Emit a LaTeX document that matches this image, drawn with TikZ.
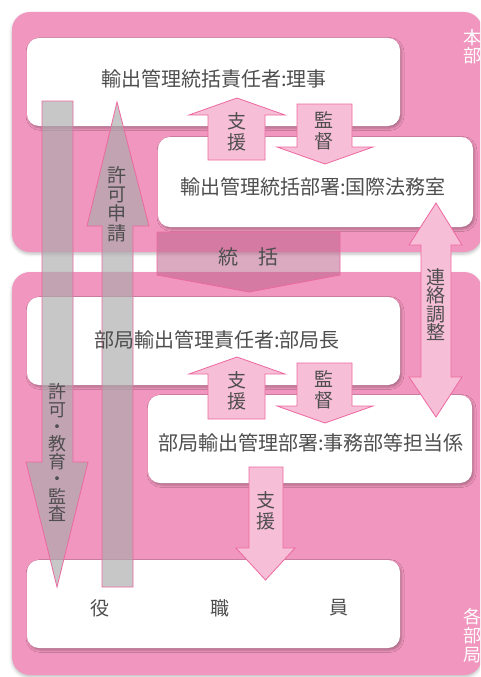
\documentclass[tikz,border=0pt]{standalone}
\usepackage{fontspec}
\newfontfamily\cjk{Noto Sans CJK JP}
\usetikzlibrary{shadows.blur}
\definecolor{panelpink}{RGB}{241,150,190}
\definecolor{txtgray}{RGB}{78,78,78}
\definecolor{edgepink}{RGB}{236,105,160}
\definecolor{lightpink}{RGB}{247,190,215}
\definecolor{darkpink}{RGB}{190,100,140}
\definecolor{arrgray}{RGB}{171,171,173}
\tikzset{
  panel/.style={fill=panelpink, draw=none, rounded corners=18pt, inner sep=0pt,
    blur shadow={shadow xshift=0pt, shadow yshift=-2pt, shadow blur radius=3pt, shadow opacity=25}},
  whitebox/.style={fill=white, draw=none, rounded corners=12pt, inner sep=0pt,
    blur shadow={shadow xshift=1.5pt, shadow yshift=-2pt, shadow blur radius=2.5pt, shadow opacity=30}},
  grayarrow/.style={fill=arrgray, fill opacity=0.66, draw=edgepink, line width=0.8pt, line join=miter},
  pinkarrow/.style={fill=lightpink, draw=edgepink, line width=0.8pt},
  toparrow/.style={fill=darkpink, fill opacity=0.55, draw=edgepink, line width=0.8pt},
  maintext/.style={font=\cjk\fontsize{20}{22}\selectfont, text=txtgray, inner sep=0pt},
  vtext/.style={font=\cjk\fontsize{19}{21}\selectfont, text=txtgray, align=center, inner sep=0pt},
  sidetext/.style={font=\cjk\fontsize{18}{18}\selectfont, text=white, align=center, inner sep=0pt}
}
\begin{document}
\begin{tikzpicture}[x=1pt,y=-1pt]
\useasboundingbox (0,0) rectangle (480,677);
\clip (0,0) rectangle (480,677);
% panels
\node[panel, minimum width=470pt, minimum height=240pt] (p1) at (247,132) {};
\node[panel, minimum width=470pt, minimum height=403pt] (p2) at (247,473.5) {};
% boxes
\node[whitebox, minimum width=373pt, minimum height=88pt] (b1) at (213.5,82) {};
\node[whitebox, minimum width=315pt, minimum height=90pt] (b2) at (315.5,182) {};
\node[whitebox, minimum width=373pt, minimum height=88pt] (b3) at (213.5,341) {};
\node[whitebox, minimum width=324pt, minimum height=88pt] (b4) at (310,439) {};
\node[whitebox, minimum width=373pt, minimum height=88pt] (b5) at (213.5,604) {};
% 統括 arrow
\draw[toparrow] (157,232) -- (340,232) -- (340,275) -- (249,292) -- (157,275) -- cycle;
% gray arrows
\draw[grayarrow] (42,101) -- (73,101) -- (73,462) -- (88,462) -- (57,587) -- (26,462) -- (42,462) -- cycle;
\draw[grayarrow] (117,102) -- (149,226) -- (133,226) -- (133,587) -- (102,587) -- (102,226) -- (87,226) -- cycle;
% pink arrows top pair
\draw[pinkarrow] (237,98) -- (285,115) -- (265,115) -- (265,160) -- (208,160) -- (208,115) -- (189,115) -- cycle;
\draw[pinkarrow] (297,104) -- (352,104) -- (352,147) -- (373,147) -- (325,164) -- (277,147) -- (297,147) -- cycle;
% pink arrows bottom pair
\draw[pinkarrow] (237,357) -- (285,374) -- (265,374) -- (265,419) -- (208,419) -- (208,374) -- (189,374) -- cycle;
\draw[pinkarrow] (297,363) -- (352,363) -- (352,406) -- (373,406) -- (325,423) -- (277,406) -- (297,406) -- cycle;
% 支援 down
\draw[pinkarrow] (249,467) -- (283,467) -- (283,548) -- (295,548) -- (265.5,580) -- (236,548) -- (249,548) -- cycle;
% 連絡調整 double arrow
\draw[pinkarrow] (436,203) -- (462,245) -- (451,245) -- (451,377) -- (462,377) -- (436,417) -- (409,377) -- (421,377) -- (421,245) -- (409,245) -- cycle;
% texts
\node[maintext] (t1) at (214,79) {輸出管理統括責任者:理事};
\node[maintext] (t2) at (313,187) {輸出管理統括部署:国際法務室};
\node[maintext] (t3) at (217,340) {部局輸出管理責任者:部局長};
\node[maintext] (t4) at (311,443) {部局輸出管理部署:事務部等担当係};
\node[maintext, font=\cjk\fontsize{19}{21}\selectfont] (t5a) at (100,608) {役};
\node[maintext, font=\cjk\fontsize{19}{21}\selectfont] (t5b) at (220,608) {職};
\node[maintext, font=\cjk\fontsize{19}{21}\selectfont] (t5c) at (339,608) {員};
\node[maintext] (tg) at (248,257) {統\hspace{1em}括};
\node[vtext] (s1) at (237,131.5) {支\\援};
\node[vtext] (k1) at (324,131) {監\\督};
\node[vtext] (s2) at (237,390.5) {支\\援};
\node[vtext] (k2) at (324,390) {監\\督};
\node[vtext] (s3) at (266,511) {支\\援};
\node[vtext, font=\cjk\fontsize{19}{19.4}\selectfont] (kk) at (117,204) {許\\可\\申\\請};
\node[vtext, font=\cjk\fontsize{18}{17.4}\selectfont] (kg) at (57,452.5) {許\\可\\・\\教\\育\\・\\監\\査};
\node[vtext, font=\cjk\fontsize{19}{18.4}\selectfont] (rr) at (436,304.5) {連\\絡\\調\\整};
\node[sidetext] (hb) at (472,47) {本\\部};
\node[sidetext, font=\cjk\fontsize{18}{19}\selectfont] (kb) at (472,636) {各\\部\\局};
\end{tikzpicture}
\end{document}
